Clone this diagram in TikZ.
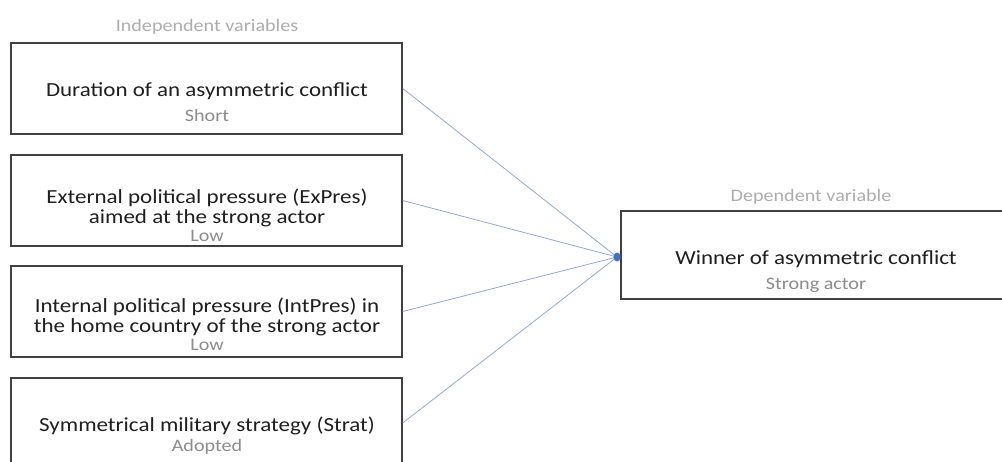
\documentclass[tikz,border=0pt]{standalone}
\usepackage{fontspec}
\setmainfont{Carlito}
\definecolor{boxline}{HTML}{404040}
\definecolor{maintext}{HTML}{1F1F1F}
\definecolor{valtext}{HTML}{8C8C8C}
\definecolor{headtext}{HTML}{ADADAD}
\definecolor{linkblue}{HTML}{8FAADC}
\definecolor{dotblue}{HTML}{4472C4}
\newcommand{\wide}[1]{\scalebox{1.15}[1]{\begin{tabular}{@{}c@{}}#1\end{tabular}}}
\begin{document}
\begin{tikzpicture}[x=1pt,y=-1pt,
  varbox/.style={draw=boxline,line width=1.4pt,fill=white,rectangle,inner sep=0pt,minimum width=391pt,minimum height=91pt},
  mainlbl/.style={text=maintext,font=\fontsize{20}{19}\selectfont,inner sep=0pt},
  vallbl/.style={text=valtext,font=\fontsize{17.5}{19}\selectfont,inner sep=0pt},
  headlbl/.style={text=headtext,font=\fontsize{17.5}{19}\selectfont,inner sep=0pt},
  link/.style={draw=linkblue,line width=0.8pt}]
\useasboundingbox (0,0) rectangle (1002,462);
\clip (0,0) rectangle (1002,462);
\fill[white] (0,0) rectangle (1002,462);
% headings
\node[headlbl] (hind) at (207,28) {\wide{Independent variables}};
\node[headlbl] (hdep) at (811,198) {\wide{Dependent variable}};
% boxes
\node[varbox] (b1) at (206.5,88.5) {};
\node[varbox] (b2) at (206.5,200.5) {};
\node[varbox] (b3) at (206.5,311.5) {};
\node[varbox,minimum height=90pt] (b4) at (206.5,423) {};
\node[varbox,minimum width=389pt,minimum height=88pt] (dep) at (815.5,255) {};
% texts
\node[mainlbl] (t1) at (207,92) {\wide{Duration of an asymmetric conflict}};
\node[vallbl] (v1) at (207,118) {\wide{Short}};
\node[mainlbl] (t2) at (207,209) {\wide{External political pressure (ExPres)\\aimed at the strong actor}};
\node[vallbl] (v2) at (207,238) {\wide{Low}};
\node[mainlbl] (t3) at (207,318) {\wide{Internal political pressure (IntPres) in\\the home country of the strong actor}};
\node[vallbl] (v3) at (207,347) {\wide{Low}};
\node[mainlbl] (t4) at (207,427) {\wide{Symmetrical military strategy (Strat)}};
\node[vallbl] (v4) at (207,448) {\wide{Adopted}};
\node[mainlbl] (t5) at (816,260) {\wide{Winner of asymmetric conflict}};
\node[vallbl] (v5) at (816,286) {\wide{Strong actor}};
% hub
\coordinate (hub) at (617,257);
\draw[link] (b1.east) -- (hub);
\draw[link] (b2.east) -- (hub);
\draw[link] (b3.east) -- (hub);
\draw[link] (b4.east) -- (hub);
\fill[dotblue] (hub) ellipse (3.5pt and 4.5pt);
\end{tikzpicture}
\end{document}
